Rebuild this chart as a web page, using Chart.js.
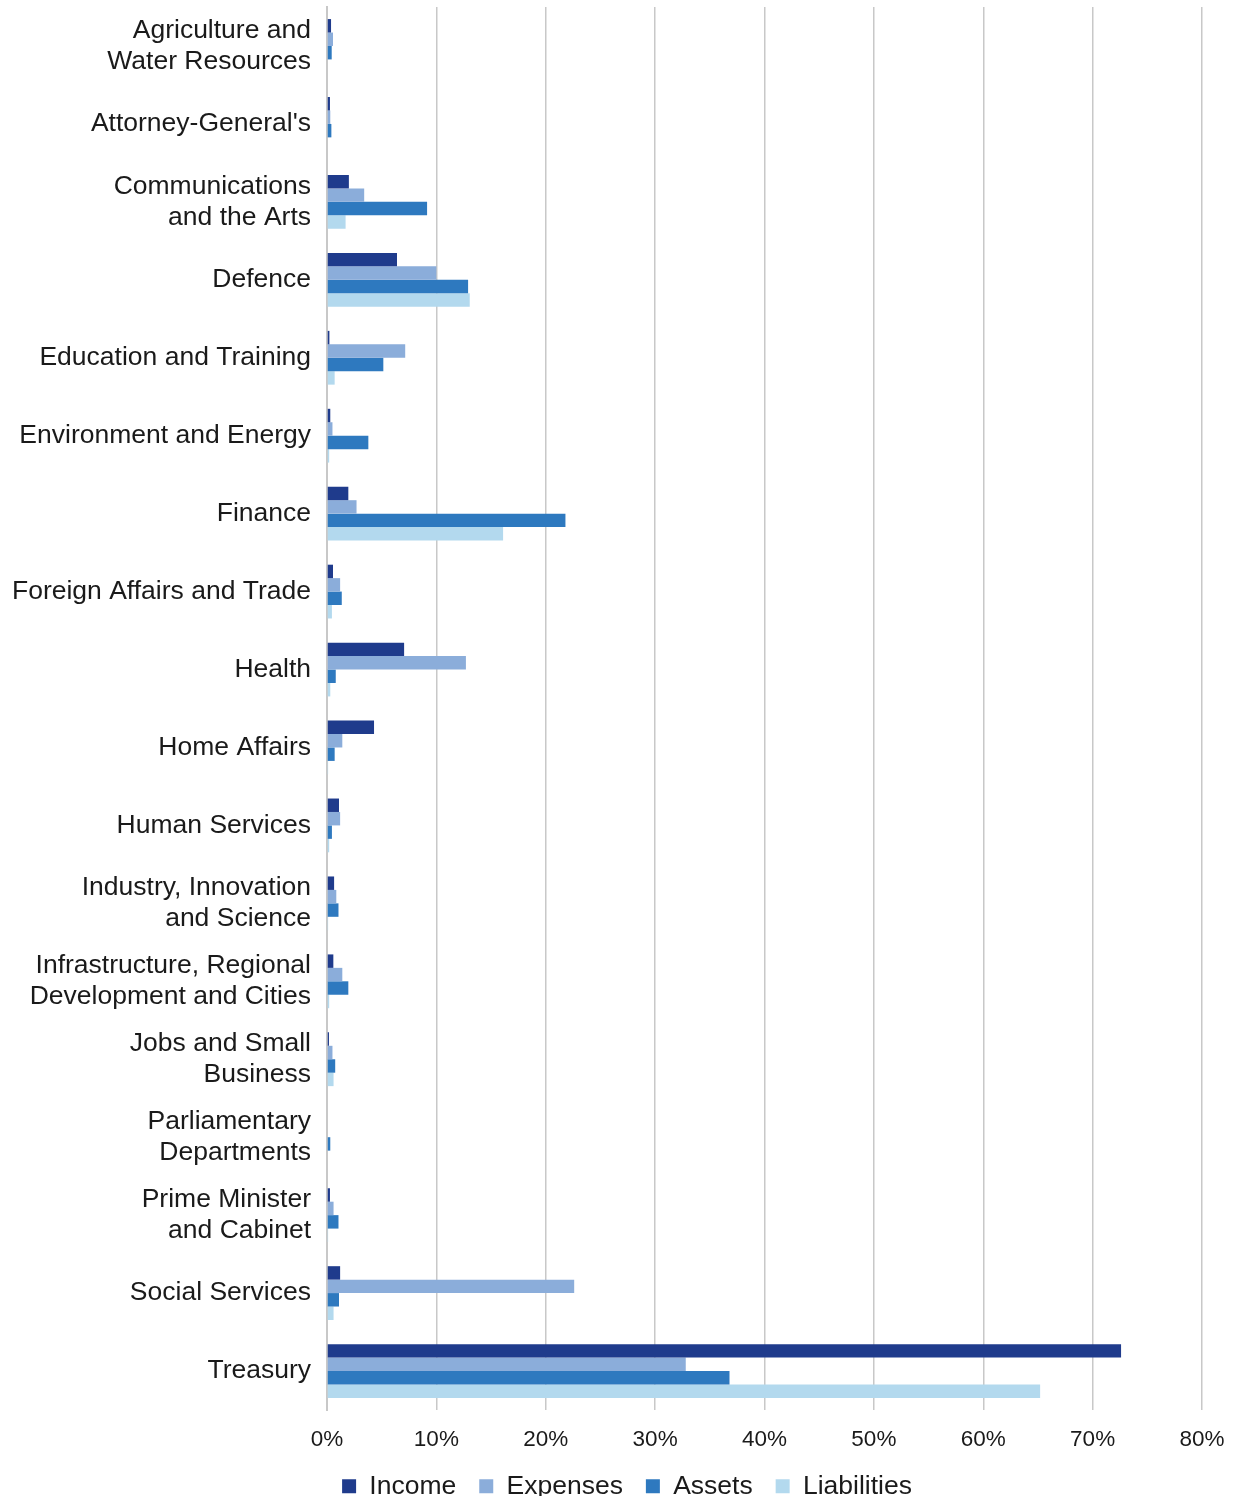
<!DOCTYPE html>
<html>
<head>
<meta charset="utf-8">
<script src="https://cdn.jsdelivr.net/npm/chart.js@4"></script>
<style>
html,body{margin:0;padding:0;background:#fff}
#wrap{width:1236px;height:1499px;position:relative}
</style>
</head>
<body>
<div id="wrap"><canvas id="portfolioChart"></canvas></div>
<script>
// portfolio share of each item, in %
const portfolios=[
["Agriculture and","Water Resources"],
"Attorney-General's",
["Communications","and the Arts"],
"Defence",
"Education and Training",
"Environment and Energy",
"Finance",
"Foreign Affairs and Trade",
"Health",
"Home Affairs",
"Human Services",
["Industry, Innovation","and Science"],
["Infrastructure, Regional","Development and Cities"],
["Jobs and Small","Business"],
["Parliamentary","Departments"],
["Prime Minister","and Cabinet"],
"Social Services",
"Treasury"
]

const income=[0.37,0.27,2.0,6.4,0.22,0.3,1.95,0.55,7.05,4.3,1.1,0.65,0.58,0.18,0,0.27,1.2,72.6]
const expenses=[0.55,0.3,3.4,10.0,7.15,0.5,2.7,1.2,12.7,1.4,1.2,0.85,1.4,0.5,0,0.6,22.6,32.8]
const assets=[0.43,0.4,9.15,12.9,5.15,3.78,21.8,1.35,0.8,0.7,0.45,1.05,1.95,0.75,0.3,1.05,1.1,36.8]
const liabilities=[0,0,1.7,13.05,0.7,0.2,16.1,0.45,0.3,0.1,0.2,0.1,0.2,0.6,0,0.1,0.6,65.2]

const xTicks=[0,10,20,30,40,50,60,70,80]

const colours={
income:"#1f3b8c",
expenses:"#8badda",
assets:"#2e79bf",
liabilities:"#b3d9ee"
}

Chart.defaults.font.family="'Liberation Sans', Arial, sans-serif"
Chart.defaults.color="#1a1a1a"

function series(label,data,colour){
return{
label:label,
data:data,
backgroundColor:colour,
borderWidth:0,
categoryPercentage:0.69,
barPercentage:1
}
}

// nudge the legend a little right and up after layout
const legendNudge={
id:"legendNudge",
afterLayout(chart){
const lg=chart.legend
lg.left+=26
lg.right+=26
lg.top-=3
lg.bottom-=3
}
}

const ctx=document.getElementById("portfolioChart")

new Chart(ctx,{
type:"bar",
data:{
labels:portfolios,
datasets:[
series("Income",income,colours.income),
series("Expenses",expenses,colours.expenses),
series("Assets",assets,colours.assets),
series("Liabilities",liabilities,colours.liabilities)
]
},
plugins:[legendNudge],
options:{
indexAxis:"y",
responsive:true,
maintainAspectRatio:false,
animation:false,
layout:{padding:{top:7,right:34,left:0,bottom:0}},
plugins:{
tooltip:{enabled:false},
legend:{
position:"bottom",
maxHeight:46,
labels:{
font:{size:26.5},
boxWidth:14,
boxHeight:14,
padding:23,
color:"#1a1a1a"
}
}
},
scales:{
x:{
min:0,
max:80,
afterBuildTicks:scale=>{scale.ticks=xTicks.map(v=>({value:v}))},
afterFit:scale=>{
scale.height=43
scale.paddingLeft=0
scale.paddingRight=0
},
grid:{color:"#c8c8c8",lineWidth:1.5,drawTicks:false},
border:{display:false},
ticks:{
padding:16,
font:{size:22.5},
color:"#1a1a1a",
callback:v=>v+"%"
}
},
y:{
afterFit:scale=>{
scale.width=327
scale.paddingTop=0
scale.paddingBottom=0
},
grid:{display:false,drawTicks:false},
border:{display:true,color:"#c8c8c8",width:2},
ticks:{
padding:16,
font:{size:26.5,lineHeight:1.17},
color:"#1a1a1a",
autoSkip:false
}
}
}
}
})
</script>
</body>
</html>
